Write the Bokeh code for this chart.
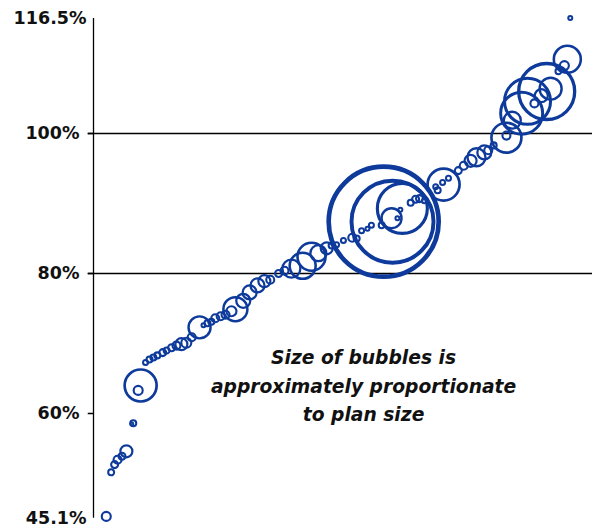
from bokeh.plotting import figure
from bokeh.models import Range1d, FixedTicker, Span, Label, ColumnDataSource
from bokeh.embed import file_html
from bokeh.resources import INLINE
import numpy as np

# ---- data ----
plan_rank = [2.6, 3.6, 4.3, 4.9, 5.8, 6.7, 8.1, 7.8, 9.6, 9.1,
             10.6, 11.4, 12.2, 13.0, 14.1, 14.9, 15.9, 16.9, 17.9, 18.9,
             20.0, 21.6, 22.4, 23.2, 24.0, 24.8, 25.9, 26.9, 28.9, 28.1,
             30.5, 31.8, 33.4, 34.8, 36.0, 37.7, 38.9, 40.3, 42.6, 44.4,
             45.8, 47.5, 48.5, 49.5, 50.9, 52.7, 53.6, 54.6, 55.8, 56.6,
             58.7, 59.1, 60.9, 62.9, 60.7, 61.9, 62.5, 64.6, 65.6, 66.4,
             67.4, 71.3, 69.7, 70.1, 71.1, 72.3, 74.3, 75.4, 76.8, 78.0,
             79.6, 80.4, 81.5, 84.1, 84.1, 85.3, 87.2, 88.4, 92.3, 93.1,
             91.2, 89.8, 94.7, 95.9, 96.5, 97.1]
funded_ratio = [45.3, 51.6, 52.7, 53.4, 53.9, 54.6, 58.6, 58.5, 64.0, 63.3,
                67.3, 67.7, 68.0, 68.3, 68.7, 69.0, 69.4, 69.7, 69.9, 70.1,
                70.9, 72.3, 72.6, 72.9, 73.1, 73.6, 73.9, 74.1, 74.9, 74.6,
                76.1, 77.3, 78.3, 78.9, 79.1, 80.0, 80.4, 80.7, 81.1, 82.4,
                82.9, 83.6, 84.0, 84.1, 84.7, 85.1, 85.0, 86.1, 86.4, 86.9,
                86.9, 87.4, 87.4, 89.3, 87.9, 87.9, 89.1, 90.1, 90.6, 90.7,
                90.4, 92.7, 92.4, 91.9, 93.0, 93.6, 94.7, 95.4, 96.1, 96.6,
                97.3, 97.6, 98.3, 99.4, 99.7, 101.9, 102.9, 104.6, 106.0, 106.4,
                105.4, 104.3, 108.9, 109.7, 110.6, 116.5]
plan_assets = [0.81, 0.36, 0.49, 0.64, 0.49, 1.44, 0.36, 0.09, 10.24, 0.81,
               0.25, 0.36, 0.36, 0.36, 0.49, 0.36, 0.49, 0.64, 1.44, 1.0,
               0.64, 4.84, 0.16, 0.36, 0.36, 0.64, 0.64, 0.64, 5.76, 1.0,
               1.96, 1.96, 1.96, 1.44, 0.64, 0.49, 0.64, 3.24, 6.76, 7.84,
               2.56, 1.44, 0.36, 0.25, 0.25, 0.64, 0.36, 0.25, 0.16, 0.25,
               0.36, 121.0, 67.24, 25.0, 4.0, 0.16, 0.16, 0.36, 0.49, 0.49,
               0.25, 10.24, 0.25, 0.36, 0.25, 0.25, 0.49, 0.64, 1.44, 3.24,
               1.96, 0.64, 0.36, 9.0, 0.64, 2.89, 17.64, 21.16, 31.36, 4.84,
               1.69, 0.64, 0.36, 0.81, 7.29, 0.16]

y_ticks = [45.1, 60, 80, 100, 116.5]
y_end_ticks = [45.1, 116.5]
y_inner_ticks = [60, 80, 100]
ref_lines = [80, 100]
note_lines = ["Size of bubbles is", "approximately proportionate", "to plan size"]

BLUE = "#0d3a9b"
INK = "#111111"

assets = np.array(plan_assets)
diam = 10.0 * np.sqrt(assets)
lw = 1.9 + 0.025 * diam

src = ColumnDataSource(dict(x=plan_rank, y=funded_ratio, assets=plan_assets,
                            d=diam.tolist(), lw=lw.tolist()))

X0 = -1.222   # frame starts a few px left of the axis line (tick marks)
p = figure(width=592, height=527, output_backend="svg", toolbar_location=None,
           x_range=Range1d(X0, 101.63), y_range=Range1d(43.714, 117.0),
           x_axis_location=None, min_border_left=87, min_border_right=0,
           min_border_top=14, min_border_bottom=0)
p.grid.visible = False
p.outline_line_color = None
p.background_fill_color = "white"
p.border_fill_color = "white"

# reference lines at 80% and 100% (start at the tick position left of the axis)
for loc in ref_lines:
    p.add_layout(Span(location=loc, dimension="width", line_color="black",
                      line_width=1.3, level="underlay"))

# vertical axis line and the remaining tick mark
p.segment(x0=[0], y0=[min(y_ticks)], x1=[0], y1=[max(y_ticks)],
          line_color="black", line_width=1.3)
p.segment(x0=[X0] * len(y_inner_ticks), y0=y_inner_ticks, x1=[0] * len(y_inner_ticks),
          y1=y_inner_ticks, line_color="black", line_width=1.3)

p.scatter(x="x", y="y", size="d", source=src, marker="circle",
          fill_color=None, line_color=BLUE, line_width="lw")

ax = p.yaxis[0]
ax.ticker = FixedTicker(ticks=y_ticks)
pad = "\u2009\u2009"
ax.major_label_overrides = {t: (f"{t}%" if t in y_end_ticks else f"{t}%" + pad)
                            for t in y_ticks}
ax.major_label_text_font = "DejaVu Sans"
ax.major_label_text_font_style = "bold"
ax.major_label_text_font_size = "17.5px"
ax.major_label_text_color = INK
ax.major_tick_out = 0
ax.major_tick_in = 0
ax.minor_tick_out = 0
ax.minor_tick_in = 0
ax.axis_line_color = None
ax.major_label_standoff = 1

note_y = [68.0, 63.9, 59.9]
for t, yy in zip(note_lines, note_y):
    p.add_layout(Label(x=55, y=yy, text=t, text_align="center",
                       text_baseline="middle", text_font="DejaVu Sans",
                       text_font_style="bold italic", text_font_size="18.7px",
                       text_color=INK))

open("out.html", "w").write(file_html(p, INLINE))
